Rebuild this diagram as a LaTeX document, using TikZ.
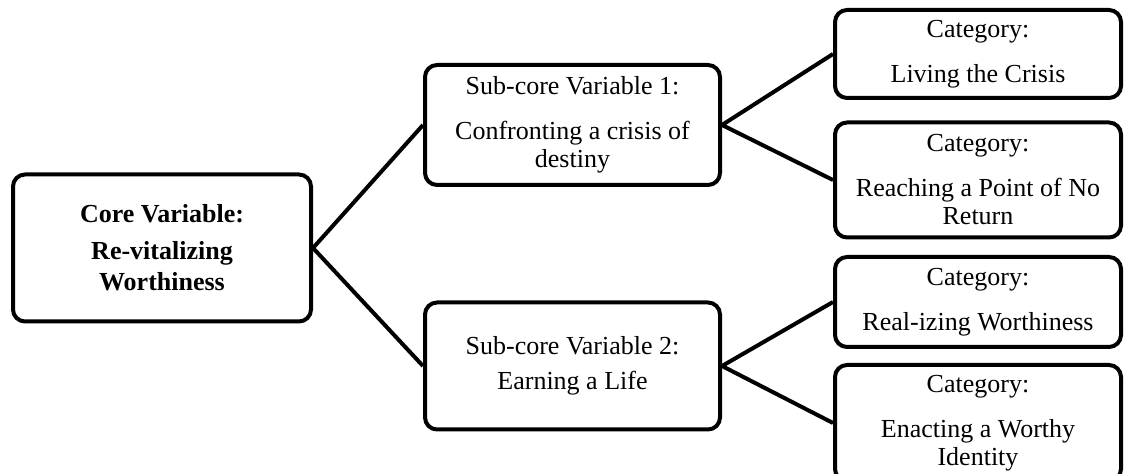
\documentclass[tikz,border=0pt]{standalone}
\usepackage{fontspec}
\setmainfont{Liberation Serif}
\usetikzlibrary{positioning}
\tikzset{
 box/.style={draw=black, line width=2pt, rounded corners=6pt, fill=white, align=center, inner sep=2pt, font=\fontsize{13}{14}\selectfont},
 corebox/.style={box, minimum width=149pt, minimum height=73.5pt, font=\fontsize{13}{15.5}\selectfont\bfseries},
 subbox/.style={box, minimum width=147.5pt},
 catbox/.style={box, minimum width=143pt},
 link/.style={line width=2pt, line join=miter}
}
\begin{document}
\begin{tikzpicture}[x=0.5pt,y=-0.5pt]
\useasboundingbox (0,0) rectangle (1124,474);
% core and sub-core variables
\node[corebox] (core) at (162,248) {Core Variable:\\[3pt]Re-vitalizing\\Worthiness};
\node[subbox, minimum height=60pt] (subA) at (572.5,125) {Sub-core Variable 1:\\[8.5pt]Confronting a crisis of\\destiny};
\node[subbox, minimum height=63.5pt] (subB) at (572.5,366) {Sub-core Variable 2:\\[3.5pt]Earning a Life};
% categories
\node[catbox, minimum height=44pt] (catA) at (978,54) {Category:\\[8.5pt]Living the Crisis};
\node[catbox, minimum height=57.5pt] (catB) at (978,180) {Category:\\[8.5pt]Reaching a Point of No\\Return};
\node[catbox, minimum height=45pt] (catC) at (978,302) {Category:\\[8.5pt]Real-izing Worthiness};
\node[catbox, minimum height=58pt] (catD) at (978,423) {Category:\\[8.5pt]Enacting a Worthy\\Identity};
% connectors
\draw[link] (subA.west) -- (core.east) -- (subB.west);
\draw[link] (catA.west) -- (subA.east) -- (catB.west);
\draw[link] (catC.west) -- (subB.east) -- (catD.west);
\end{tikzpicture}
\end{document}
